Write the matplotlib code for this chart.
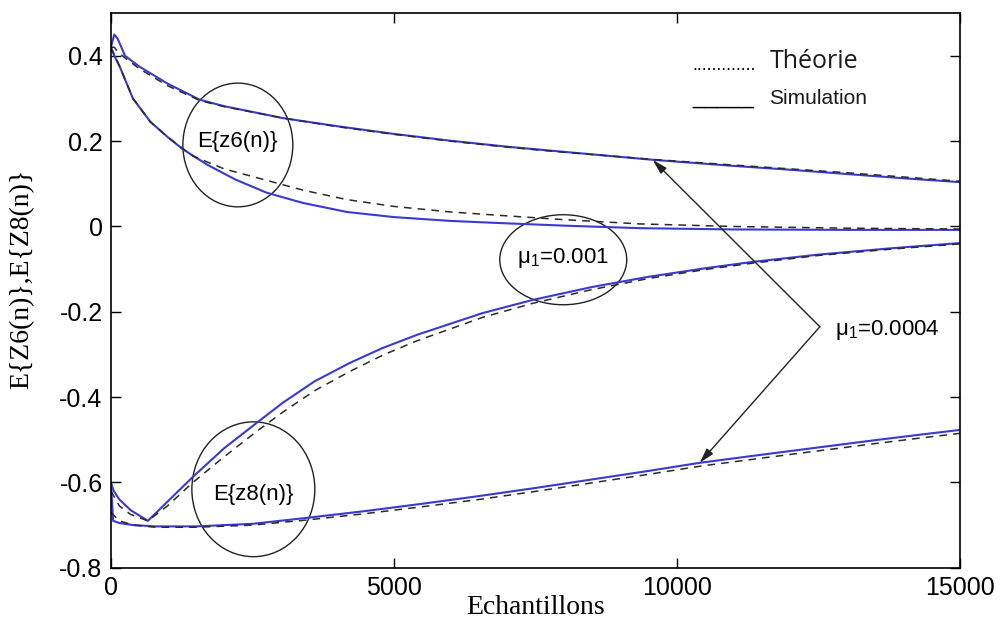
import matplotlib
matplotlib.use("Agg")
import matplotlib.pyplot as plt
from matplotlib.patches import Ellipse

plt.rcParams['mathtext.fontset'] = 'custom'
plt.rcParams['mathtext.rm'] = 'Liberation Sans'
plt.rcParams['mathtext.it'] = 'Liberation Sans'

# E{z6(n)}, mu1 = 0.0004 (upper branch)
n_z6_slow = [0, 60, 120, 250, 500, 1000, 1572, 2000, 3040, 4000, 5000, 6000,
             7000, 8000, 9600, 11000, 12000, 13000, 14000, 15000]
sim_z6_slow = [0.42, 0.45, 0.44, 0.40, 0.375, 0.335, 0.297, 0.282, 0.254, 0.235,
               0.217, 0.201, 0.187, 0.175, 0.156, 0.142, 0.133, 0.123, 0.113, 0.104]
th_z6_slow = [0.42, 0.42, 0.41, 0.395, 0.37, 0.33, 0.295, 0.281, 0.254, 0.234,
              0.216, 0.200, 0.186, 0.174, 0.157, 0.144, 0.135, 0.126, 0.116, 0.106]

# E{z6(n)}, mu1 = 0.001
n_z6_fast_sim = [0, 60, 159, 389, 700, 1000, 1272, 1700, 2200, 2756, 3400, 4170,
                 5000, 6000, 6873, 8000, 9346, 11000, 13000, 15000]
sim_z6_fast = [0.42, 0.40, 0.374, 0.30, 0.245, 0.21, 0.181, 0.145, 0.11, 0.079,
               0.055, 0.034, 0.022, 0.013, 0.008, 0.002, -0.004, -0.007, -0.008, -0.008]
n_z6_fast_th = [0, 159, 389, 700, 1000, 1449, 2000, 2756, 3400, 4170, 5000, 6000,
                6873, 8000, 9346, 11000, 13000, 15000]
th_z6_fast = [0.42, 0.374, 0.30, 0.245, 0.21, 0.165, 0.135, 0.108, 0.085, 0.063,
              0.047, 0.034, 0.026, 0.016, 0.006, 0.0, -0.004, -0.006]

# E{z8(n)}, mu1 = 0.001
n_z8_fast_sim = [0, 50, 150, 350, 654, 1000, 1449, 2000, 2580, 3040, 3600, 4220,
                 4800, 5410, 6000, 6570, 7460, 8500, 9500, 10500, 11343, 12500,
                 13800, 15000]
sim_z8_fast = [-0.60, -0.62, -0.64, -0.665, -0.69, -0.645, -0.587, -0.52, -0.46,
               -0.413, -0.363, -0.32, -0.285, -0.254, -0.228, -0.203, -0.172,
               -0.142, -0.118, -0.098, -0.083, -0.066, -0.051, -0.039]
n_z8_fast_th = [0, 150, 350, 654, 1000, 1449, 2000, 2580, 3040, 3600, 4220, 4800,
                5410, 6000, 6570, 7460, 8500, 9500, 10500, 11343, 12500, 13800, 15000]
th_z8_fast = [-0.62, -0.655, -0.675, -0.69, -0.655, -0.60, -0.54, -0.48, -0.435,
              -0.385, -0.34, -0.302, -0.268, -0.24, -0.213, -0.18, -0.148, -0.122,
              -0.101, -0.086, -0.068, -0.053, -0.041]

# E{z8(n)}, mu1 = 0.0004 (lower branch)
n_z8_slow_sim = [0, 40, 150, 400, 800, 1500, 2500, 3463, 4500, 5500, 6500, 7500,
                 8500, 9500, 10406, 11500, 12500, 13500, 14300, 15000]
sim_z8_slow = [-0.60, -0.69, -0.695, -0.70, -0.703, -0.703, -0.697, -0.683, -0.667,
               -0.65, -0.632, -0.613, -0.593, -0.573, -0.554, -0.535, -0.518,
               -0.501, -0.488, -0.477]
n_z8_slow_th = [0, 150, 400, 800, 1500, 2500, 3463, 4500, 5500, 6500, 7500, 8500,
                9500, 10406, 11500, 12500, 13500, 14300, 15000]
th_z8_slow = [-0.67, -0.69, -0.70, -0.705, -0.705, -0.70, -0.688, -0.673, -0.657,
              -0.64, -0.621, -0.601, -0.581, -0.562, -0.543, -0.526, -0.509,
              -0.496, -0.485]

x_ticks = [0, 5000, 10000, 15000]
y_ticks = [-0.8, -0.6, -0.4, -0.2, 0, 0.2, 0.4]
y_tick_labels = ['-0.8', '-0.6', '-0.4', '-0.2', '0', '0.2', '0.4']

sim_color = '#3a3ad2'
th_color = '#2a2a2a'

fig = plt.figure(figsize=(10.08, 6.26), dpi=100)
ax = fig.add_subplot(111)
fig.subplots_adjust(left=0.110, right=0.952, bottom=0.093, top=0.979)

# simulation first, theory dashes on top
ax.plot(n_z6_slow, sim_z6_slow, color=sim_color, lw=1.5)
ax.plot(n_z6_fast_sim, sim_z6_fast, color=sim_color, lw=1.5)
ax.plot(n_z8_fast_sim, sim_z8_fast, color=sim_color, lw=1.5)
ax.plot(n_z8_slow_sim, sim_z8_slow, color=sim_color, lw=1.5)

dash = (0, (5, 4))
ax.plot(n_z6_slow, th_z6_slow, color=th_color, lw=1.1, linestyle=dash)
ax.plot(n_z6_fast_th, th_z6_fast, color=th_color, lw=1.1, linestyle=dash)
ax.plot(n_z8_fast_th, th_z8_fast, color=th_color, lw=1.1, linestyle=dash)
ax.plot(n_z8_slow_th, th_z8_slow, color=th_color, lw=1.1, linestyle=dash)

ax.set_xlim(0, 15000)
ax.set_ylim(-0.8, 0.5)
ax.set_xticks(x_ticks)
ax.set_xticklabels([str(t) for t in x_ticks])
ax.set_yticks(y_ticks)
ax.set_yticklabels(y_tick_labels)
ax.tick_params(direction='in', top=True, right=True, length=7, width=1,
               labelsize=18, pad=6)
for lab in ax.get_xticklabels() + ax.get_yticklabels():
    lab.set_fontfamily('Liberation Sans')
for sp in ax.spines.values():
    sp.set_linewidth(1.2)

ax.set_xlabel('Echantillons', fontsize=20, family='Liberation Serif', labelpad=-4)
ax.set_ylabel('E{Z6(n)},E{Z8(n)}', fontsize=20, family='Liberation Serif')
ax.yaxis.set_label_coords(-0.09, 0.52)

# circled annotations
sans = 'Liberation Sans'
ax.add_patch(Ellipse((2244, 0.191), 1943, 0.290, fill=False, ec='#222222', lw=1))
ax.text(2244, 0.198, 'E{z6(n)}', fontsize=16, family=sans, ha='center', va='center')

ax.add_patch(Ellipse((2518, -0.616), 2173, 0.316, fill=False, ec='#222222', lw=1))
ax.text(2518, -0.629, 'E{z8(n)}', fontsize=16, family=sans, ha='center', va='center')

ax.add_patch(Ellipse((7995, -0.078), 2244, 0.211, fill=False, ec='#222222', lw=1))
ax.text(7995, -0.075, 'μ$_1$=0.001', fontsize=16, family=sans, ha='center', va='center')

ax.text(12792, -0.242, 'μ$_1$=0.0004', fontsize=16, family=sans, ha='left', va='center')
arrow = dict(arrowstyle='-|>,head_width=0.25,head_length=0.9', color='#222222',
             lw=1, shrinkA=0, shrinkB=0)
ax.annotate('', xy=(9576, 0.156), xytext=(12530, -0.235), arrowprops=arrow)
ax.annotate('', xy=(10406, -0.554), xytext=(12530, -0.235), arrowprops=arrow)

# legend written as text
ax.text(0.6855, 0.897, '.' * 13, transform=ax.transAxes, fontsize=13,
        family=sans, va='baseline', ha='left')
ax.text(0.776, 0.901, 'Théorie', transform=ax.transAxes, fontsize=18,
        family='Open Sans', va='baseline', ha='left', color='#1a1a1a')
ax.text(0.6855, 0.836, '_____', transform=ax.transAxes, fontsize=16,
        family=sans, va='baseline', ha='left')
ax.text(0.776, 0.836, 'Simulation', transform=ax.transAxes, fontsize=15,
        family=['Liberation Sans Narrow', 'Liberation Sans'], va='baseline',
        ha='left', color='#1a1a1a')

plt.savefig('out.png', dpi=100)
